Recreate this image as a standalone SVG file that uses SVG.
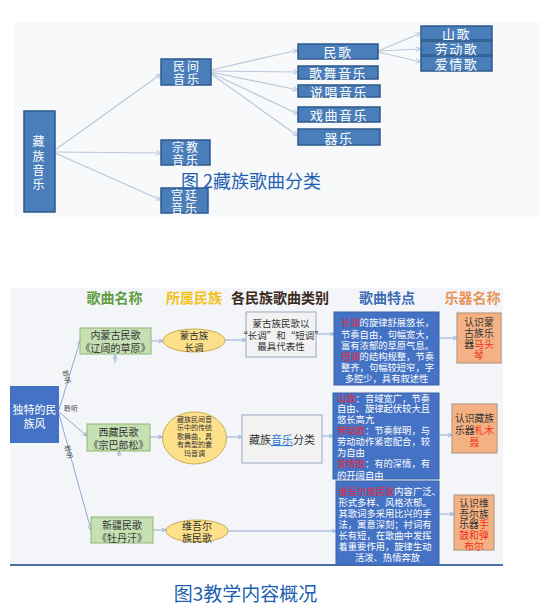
<svg xmlns="http://www.w3.org/2000/svg" width="552" height="604" viewBox="0 0 552 604">
<defs>
<style>
text{font-family:"Noto Sans CJK SC","Noto Sans",sans-serif;}
.tb rect{fill:#4a7ebb;stroke:#2d5a8c;stroke-width:1.5;}
.tt{fill:#ffffff;font-size:13px;text-anchor:middle;dominant-baseline:central;letter-spacing:1.5px;}
.t2{fill:#ffffff;font-size:12px;text-anchor:middle;dominant-baseline:central;letter-spacing:2px;}
.c1{fill:none;stroke:#b9c8da;stroke-width:1.2;marker-end:url(#a1);}
.c2{fill:none;stroke:#8faad6;stroke-width:1;marker-end:url(#a2);}
.grn rect{fill:#c6e0b4;stroke:#8db873;stroke-width:1;}
.ell ellipse{fill:#fde08a;stroke:#c9ac55;stroke-width:1;}
.gry rect{fill:#f2f2f2;stroke:#a8b6c9;stroke-width:1.2;}
.blu rect{fill:#4472c4;stroke:#3a62aa;stroke-width:1;}
.org rect{fill:#f4b183;stroke:#b89a84;stroke-width:1.2;}
.dk{fill:#333333;text-anchor:middle;dominant-baseline:central;}
.wt{fill:#ffffff;font-size:9.3px;dominant-baseline:central;}
.rd{fill:#e3283a;}
.ro{fill:#f03020;}
.lbl{fill:#444444;font-size:7px;text-anchor:middle;dominant-baseline:central;}
.hd{font-size:14px;font-weight:bold;text-anchor:middle;dominant-baseline:central;}
</style>
<marker id="a1" viewBox="0 0 10 10" refX="9" refY="5" markerWidth="5" markerHeight="5" orient="auto"><path d="M0,1 L10,5 L0,9" fill="none" stroke="#b9c8da" stroke-width="1.6"/></marker>
<marker id="a2" viewBox="0 0 10 10" refX="9" refY="5" markerWidth="5" markerHeight="5" orient="auto"><path d="M0,1 L10,5 L0,9" fill="none" stroke="#8faad6" stroke-width="1.6"/></marker>
</defs>
<rect width="552" height="604" fill="#ffffff"/>
<!-- top figure -->
<rect x="13" y="22" width="527" height="195" fill="#f8f9fa"/>
<g id="connectors-top">
<path class="c1" d="M55,150 L161,74"/>
<path class="c1" d="M55,152 L161,153"/>
<path class="c1" d="M55,153 L161,200"/>
<path class="c1" d="M211,70 L298,50"/>
<path class="c1" d="M211,71 L298,72"/>
<path class="c1" d="M211,72 L298,90"/>
<path class="c1" d="M211,73 L298,114"/>
<path class="c1" d="M211,74 L298,136"/>
<path class="c1" d="M378,51 L421,33"/>
<path class="c1" d="M378,51 L421,49"/>
<path class="c1" d="M378,52 L421,62"/>
</g>
<g id="n-zangzu" class="tb"><rect x="24" y="111" width="31" height="101"/><text class="t2" x="39.5" y="140">藏</text><text class="t2" x="39.5" y="155">族</text><text class="t2" x="39.5" y="169">音</text><text class="t2" x="39.5" y="183">乐</text></g>
<g id="n-minjian" class="tb"><rect x="161" y="59" width="50" height="26"/><text class="t2" x="187" y="65.5">民间</text><text class="t2" x="187" y="78.5">音乐</text></g>
<g id="n-zongjiao" class="tb"><rect x="161" y="140" width="49" height="25"/><text class="t2" x="186" y="146">宗教</text><text class="t2" x="186" y="159">音乐</text></g>
<g id="n-gongting" class="tb"><rect x="161" y="188" width="47" height="25"/><text class="t2" x="185" y="194">宫廷</text><text class="t2" x="185" y="207">音乐</text></g>
<g id="n-minge" class="tb"><rect x="298" y="44" width="80" height="15"/><text class="tt" x="338" y="51.5">民歌</text></g>
<g id="n-gewu" class="tb"><rect x="298" y="66" width="80" height="13"/><text class="tt" x="338" y="72.5">歌舞音乐</text></g>
<g id="n-shuochang" class="tb"><rect x="298" y="85" width="82" height="12"/><text class="tt" x="339" y="91">说唱音乐</text></g>
<g id="n-xiqu" class="tb"><rect x="298" y="107" width="82" height="15"/><text class="tt" x="339" y="114.5">戏曲音乐</text></g>
<g id="n-qiyue" class="tb"><rect x="298" y="129" width="82" height="16"/><text class="tt" x="339" y="137">器乐</text></g>
<g id="n-shange" class="tb"><rect x="421" y="26" width="71" height="14"/><text class="tt" x="456.5" y="33">山歌</text></g>
<g id="n-laodong" class="tb"><rect x="421" y="41" width="71" height="14"/><text class="tt" x="456.5" y="48">劳动歌</text></g>
<g id="n-aiqing" class="tb"><rect x="421" y="56" width="71" height="15"/><text class="tt" x="456.5" y="63.5">爱情歌</text></g>
<text x="251" y="179.5" fill="#1d5fb0" font-size="18px" text-anchor="middle" dominant-baseline="central">图 2藏族歌曲分类</text>

<!-- bottom figure -->
<rect x="10" y="288" width="493" height="277" fill="#f3f5f8"/>
<line x1="10" y1="565" x2="503" y2="565" stroke="#4a6fa8" stroke-width="2"/>
<g id="headers">
<text class="hd" x="114.5" y="297" fill="#5f9e3e">歌曲名称</text>
<text class="hd" x="194" y="297" fill="#f2c21c">所属民族</text>
<text class="hd" x="280" y="297" fill="#3a2a1c" font-size="12.5px">各民族歌曲类别</text>
<text class="hd" x="387" y="297" fill="#3c6cb4">歌曲特点</text>
<text class="hd" x="472.5" y="297" fill="#e8955a">乐器名称</text>
</g>
<g id="connectors-bottom">
<path class="c2" d="M59,410 L80,341"/>
<path class="c2" d="M59,412 L87,436"/>
<path class="c2" d="M59,414 L91,530"/>
<path class="c2" d="M115,363 L115,355"/>
<path class="c2" d="M119,456 L119,451"/>
<path class="c2" d="M151,341 L163,341"/>
<path class="c2" d="M225,340 L246,340"/>
<path class="c2" d="M316,334 L334,334"/>
<path class="c2" d="M439,338 L457,338"/>
<path class="c2" d="M150,437 L162,437"/>
<path class="c2" d="M227,437 L242,437"/>
<path class="c2" d="M322,436 L333,436"/>
<path class="c2" d="M439,435 L452,435"/>
<path class="c2" d="M153,530 L166,530"/>
<path class="c2" d="M228,531 L336,531"/>
<path class="c2" d="M439,514 L454,514"/>
<text class="lbl" transform="translate(67,377) rotate(75)">聆听</text>
<text class="lbl" x="71" y="408">聆听</text>
<text class="lbl" transform="translate(69,452) rotate(75)">聆听</text>
</g>
<g id="n-root"><rect x="10" y="386" width="49" height="57" fill="#4472c4"/><text x="34.5" y="409" fill="#ffffff" font-size="11px" text-anchor="middle" dominant-baseline="central">独特的民</text><text x="34.5" y="422.5" fill="#ffffff" font-size="11px" text-anchor="middle" dominant-baseline="central">族风</text></g>
<g id="n-neimeng" class="grn"><rect x="80" y="328" width="71" height="26"/><text class="dk" x="115.5" y="334.5" font-size="10px">内蒙古民歌</text><text class="dk" x="115.5" y="347" font-size="10px">《辽阔的草原》</text></g>
<g id="n-xizang" class="grn"><rect x="87" y="424" width="63" height="27"/><text class="dk" x="118.5" y="431.5" font-size="10px">西藏民歌</text><text class="dk" x="118.5" y="444" font-size="10px">《宗巴郎松》</text></g>
<g id="n-xinjiang" class="grn"><rect x="91" y="517" width="62" height="26"/><text class="dk" x="122" y="524.5" font-size="10px">新疆民歌</text><text class="dk" x="122" y="537" font-size="10px">《牡丹汗》</text></g>
<g id="e-menggu" class="ell"><ellipse cx="194" cy="340.5" rx="31" ry="11.5"/><text class="dk" x="194" y="335" font-size="9.5px">蒙古族</text><text class="dk" x="194" y="346.5" font-size="9.5px">长调</text></g>
<g id="e-zangzu" class="ell"><ellipse cx="194.5" cy="438" rx="32" ry="26"/><text class="dk" x="194.5" y="418.5" font-size="7px">藏族民间音</text><text class="dk" x="194.5" y="427" font-size="7px">乐中的传统</text><text class="dk" x="194.5" y="435.5" font-size="7px">歌舞曲，具</text><text class="dk" x="194.5" y="444" font-size="7px">有典型的囊</text><text class="dk" x="194.5" y="452.5" font-size="7px">玛音调</text></g>
<g id="e-weiwuer" class="ell"><ellipse cx="197" cy="531" rx="31" ry="11"/><text class="dk" x="197" y="525" font-size="10px">维吾尔</text><text class="dk" x="197" y="537" font-size="10px">族民歌</text></g>
<g id="g-menggu" class="gry"><rect x="246" y="312" width="70" height="45"/><text class="dk" x="281" y="323" font-size="9.5px">蒙古族民歌以</text><text class="dk" x="281" y="334.5" font-size="9.5px">“长调”和“短调”</text><text class="dk" x="281" y="346" font-size="9.5px">最具代表性</text></g>
<g id="g-zangzu" class="gry"><rect x="242" y="415" width="80" height="48"/><text class="dk" x="282" y="439" font-size="11px">藏族<tspan fill="#2f77d0" text-decoration="underline">音乐</tspan>分类</text></g>
<g id="b-menggu" class="blu"><rect x="334" y="312" width="105" height="73"/>
<text class="wt" x="341" y="322"><tspan class="rd">长调</tspan>的旋律舒展悠长，</text>
<text class="wt" x="341" y="333.5">节奏自由，句幅宽大，</text>
<text class="wt" x="341" y="344.5">富有浓郁的草原气息。</text>
<text class="wt" x="341" y="356"><tspan class="rd">短调</tspan>的结构规整，节奏</text>
<text class="wt" x="341" y="367">整齐，句幅较短窄，字</text>
<text class="wt" x="386.5" y="377.5" text-anchor="middle">多腔少，具有叙述性</text></g>
<g id="b-zangzu" class="blu"><rect x="333" y="393" width="106" height="86"/>
<text class="wt" x="337" y="397.5"><tspan class="rd">山歌</tspan>：音域宽广，节奏</text>
<text class="wt" x="337" y="408">自由、旋律起伏较大且</text>
<text class="wt" x="337" y="419">悠长高亢</text>
<text class="wt" x="337" y="430"><tspan class="rd">劳动歌</tspan>：节奏鲜明，与</text>
<text class="wt" x="337" y="441">劳动动作紧密配合，较</text>
<text class="wt" x="337" y="452">为自由</text>
<text class="wt" x="337" y="463"><tspan class="rd">爱情歌</tspan>：有的深情，有</text>
<text class="wt" x="337" y="474.5">的开阔自由</text></g>
<g id="b-weiwuer" class="blu"><rect x="336" y="481" width="103" height="84"/>
<text class="wt" x="338.5" y="490.5" font-size="8.8px"><tspan class="rd">维吾尔族民歌</tspan>内容广泛、</text>
<text class="wt" x="338.5" y="502">形式多样、风格浓郁。</text>
<text class="wt" x="338.5" y="513">其歌词多采用比兴的手</text>
<text class="wt" x="338.5" y="524">法，寓意深刻；衬词有</text>
<text class="wt" x="338.5" y="535">长有短，在歌曲中发挥</text>
<text class="wt" x="338.5" y="546">着重要作用，旋律生动</text>
<text class="wt" x="387.5" y="557" text-anchor="middle">活泼、热情奔放</text></g>
<g id="o-matouqin" class="org"><rect x="457" y="313" width="44" height="50"/><text class="dk" x="479" y="322" font-size="9.8px">认识蒙</text><text class="dk" x="479" y="333" font-size="9.8px">古族乐</text><text class="dk" x="479" y="344" font-size="9.8px">器<tspan class="ro">马头</tspan></text><text class="dk ro" x="479" y="355" font-size="9.8px">琴</text></g>
<g id="o-zhamunie" class="org"><rect x="452" y="404" width="45" height="49"/><text class="dk" x="474.5" y="418" font-size="9.8px">认识藏族</text><text class="dk" x="474.5" y="430" font-size="9.8px">乐器<tspan class="ro">札木</tspan></text><text class="dk ro" x="474.5" y="442" font-size="9.8px">聂</text></g>
<g id="o-weiwuer" class="org"><rect x="454" y="495" width="40" height="55"/><text class="dk" x="474" y="502.5" font-size="9.8px">认识维</text><text class="dk" x="474" y="513.5" font-size="9.8px">吾尔族</text><text class="dk" x="474" y="524" font-size="9.8px">乐器<tspan class="ro">手</tspan></text><text class="dk ro" x="474" y="535" font-size="9.8px">鼓和弹</text><text class="dk ro" x="474" y="546" font-size="9.8px">布尔</text></g>
<text x="245.5" y="592" fill="#1d5fb0" font-size="19px" text-anchor="middle" dominant-baseline="central">图3教学内容概况</text>
</svg>
